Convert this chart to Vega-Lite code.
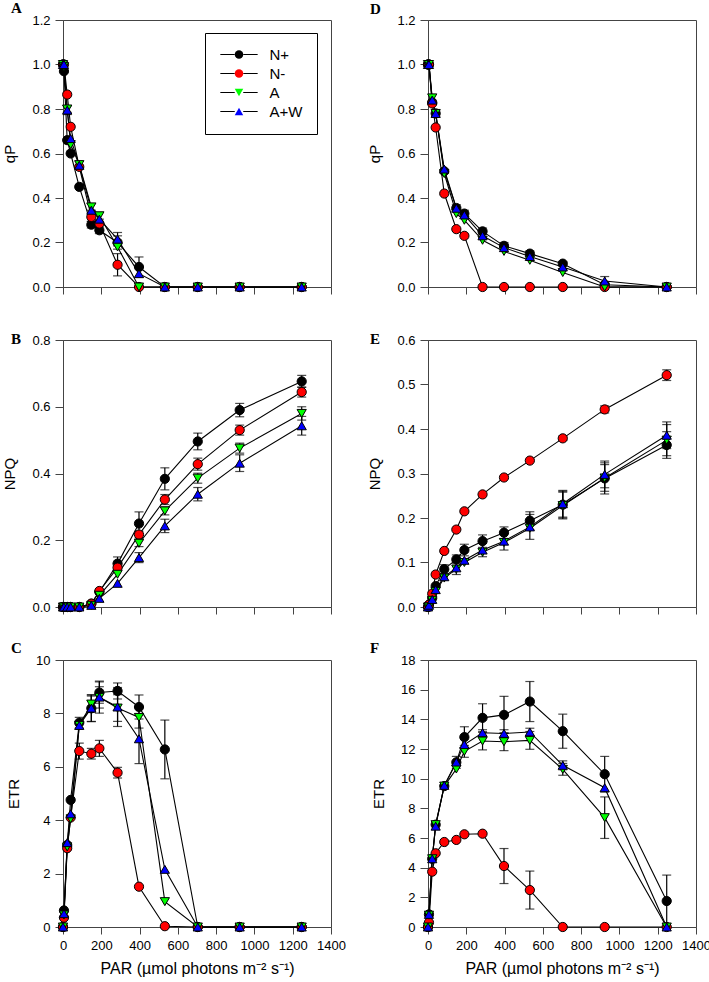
{
"$schema": "https://vega.github.io/schema/vega-lite/v6.json",
"background": "white",
"padding": {"left": 2, "top": 0, "right": 0, "bottom": 0},
"config": {
  "font": "Liberation Sans",
  "view": {"stroke": "#444", "strokeWidth": 1},
  "axis": {"grid": false, "domainColor": "#444", "tickColor": "#444", "tickSize": 8, "labelFontSize": 13, "labelColor": "#000", "labelFont": "Liberation Sans", "titleFont": "Liberation Sans", "titleFontSize": 15, "titleFontWeight": "normal", "titleColor": "#000", "labelPadding": 5, "titlePadding": 14, "labelOverlap": false, "labelFlush": false},
  "title": {"font": "Liberation Serif", "fontSize": 15, "fontWeight": "bold", "anchor": "start", "frame": "group", "color": "#000", "offset": 0}
},
"datasets": {
"A": [
{"t":"N+","x":0,"y":1.0},{"t":"N+","x":5,"y":0.97},{"t":"N+","x":22,"y":0.66},{"t":"N+","x":40,"y":0.6},{"t":"N+","x":85,"y":0.45},{"t":"N+","x":148,"y":0.28,"e":0.015},{"t":"N+","x":190,"y":0.255,"e":0.015},{"t":"N+","x":285,"y":0.2,"e":0.03},{"t":"N+","x":397,"y":0.09,"e":0.045},{"t":"N+","x":532,"y":0},{"t":"N+","x":704,"y":0},{"t":"N+","x":923,"y":0},{"t":"N+","x":1247,"y":0},
{"t":"N-","x":0,"y":1.0},{"t":"N-","x":5,"y":1.0},{"t":"N-","x":22,"y":0.865},{"t":"N-","x":40,"y":0.72},{"t":"N-","x":85,"y":0.54},{"t":"N-","x":148,"y":0.315,"e":0.02},{"t":"N-","x":190,"y":0.285},{"t":"N-","x":285,"y":0.1,"e":0.05},{"t":"N-","x":397,"y":0},{"t":"N-","x":532,"y":0},{"t":"N-","x":704,"y":0},{"t":"N-","x":923,"y":0},{"t":"N-","x":1247,"y":0},
{"t":"A","x":0,"y":1.0},{"t":"A","x":5,"y":0.99},{"t":"A","x":22,"y":0.8,"e":0.015},{"t":"A","x":40,"y":0.64},{"t":"A","x":85,"y":0.55,"e":0.015},{"t":"A","x":148,"y":0.36,"e":0.015},{"t":"A","x":190,"y":0.32,"e":0.015},{"t":"A","x":285,"y":0.18},{"t":"A","x":397,"y":0},{"t":"A","x":532,"y":0},{"t":"A","x":704,"y":0},{"t":"A","x":923,"y":0},{"t":"A","x":1247,"y":0},
{"t":"A+W","x":0,"y":1.0},{"t":"A+W","x":5,"y":1.0},{"t":"A+W","x":22,"y":0.795,"e":0.02},{"t":"A+W","x":40,"y":0.667},{"t":"A+W","x":85,"y":0.547},{"t":"A+W","x":148,"y":0.345},{"t":"A+W","x":190,"y":0.305},{"t":"A+W","x":285,"y":0.215,"e":0.03},{"t":"A+W","x":397,"y":0.06},{"t":"A+W","x":532,"y":0},{"t":"A+W","x":704,"y":0},{"t":"A+W","x":923,"y":0},{"t":"A+W","x":1247,"y":0}
],
"D": [
{"t":"N+","x":0,"y":1.0},{"t":"N+","x":5,"y":1.0},{"t":"N+","x":22,"y":0.83},{"t":"N+","x":40,"y":0.78},{"t":"N+","x":85,"y":0.52},{"t":"N+","x":148,"y":0.355,"e":0.015},{"t":"N+","x":190,"y":0.33,"e":0.015},{"t":"N+","x":285,"y":0.25,"e":0.015},{"t":"N+","x":397,"y":0.185,"e":0.015},{"t":"N+","x":532,"y":0.15,"e":0.012},{"t":"N+","x":704,"y":0.105,"e":0.01},{"t":"N+","x":923,"y":0.01},{"t":"N+","x":1247,"y":0},
{"t":"N-","x":0,"y":1.0},{"t":"N-","x":5,"y":1.0},{"t":"N-","x":22,"y":0.825},{"t":"N-","x":40,"y":0.717},{"t":"N-","x":85,"y":0.42},{"t":"N-","x":148,"y":0.26},{"t":"N-","x":190,"y":0.23},{"t":"N-","x":285,"y":0},{"t":"N-","x":397,"y":0},{"t":"N-","x":532,"y":0},{"t":"N-","x":704,"y":0},{"t":"N-","x":923,"y":0},{"t":"N-","x":1247,"y":0},
{"t":"A","x":0,"y":1.0},{"t":"A","x":5,"y":1.0},{"t":"A","x":22,"y":0.85},{"t":"A","x":40,"y":0.78},{"t":"A","x":85,"y":0.51},{"t":"A","x":148,"y":0.33},{"t":"A","x":190,"y":0.3},{"t":"A","x":285,"y":0.21},{"t":"A","x":397,"y":0.16},{"t":"A","x":532,"y":0.12},{"t":"A","x":704,"y":0.065},{"t":"A","x":923,"y":0},{"t":"A","x":1247,"y":0},
{"t":"A+W","x":0,"y":1.0},{"t":"A+W","x":5,"y":1.0},{"t":"A+W","x":22,"y":0.84},{"t":"A+W","x":40,"y":0.78,"e":0.015},{"t":"A+W","x":85,"y":0.53},{"t":"A+W","x":148,"y":0.354},{"t":"A+W","x":190,"y":0.324},{"t":"A+W","x":285,"y":0.23},{"t":"A+W","x":397,"y":0.177},{"t":"A+W","x":532,"y":0.137},{"t":"A+W","x":704,"y":0.09},{"t":"A+W","x":923,"y":0.027,"e":0.02},{"t":"A+W","x":1247,"y":0}
],
"B": [
{"t":"N+","x":0,"y":0},{"t":"N+","x":5,"y":0},{"t":"N+","x":22,"y":0},{"t":"N+","x":40,"y":0},{"t":"N+","x":85,"y":0},{"t":"N+","x":148,"y":0.01},{"t":"N+","x":190,"y":0.045},{"t":"N+","x":285,"y":0.13,"e":0.02},{"t":"N+","x":397,"y":0.25,"e":0.035},{"t":"N+","x":532,"y":0.384,"e":0.033},{"t":"N+","x":704,"y":0.496,"e":0.025},{"t":"N+","x":923,"y":0.59,"e":0.02},{"t":"N+","x":1247,"y":0.676,"e":0.018},
{"t":"N-","x":0,"y":0},{"t":"N-","x":5,"y":0},{"t":"N-","x":22,"y":0},{"t":"N-","x":40,"y":0},{"t":"N-","x":85,"y":0},{"t":"N-","x":148,"y":0.01},{"t":"N-","x":190,"y":0.048},{"t":"N-","x":285,"y":0.118},{"t":"N-","x":397,"y":0.217,"e":0.01},{"t":"N-","x":532,"y":0.322,"e":0.015},{"t":"N-","x":704,"y":0.428,"e":0.018},{"t":"N-","x":923,"y":0.53,"e":0.015},{"t":"N-","x":1247,"y":0.644,"e":0.015},
{"t":"A","x":0,"y":0},{"t":"A","x":5,"y":0},{"t":"A","x":22,"y":0},{"t":"A","x":40,"y":0},{"t":"A","x":85,"y":0},{"t":"A","x":148,"y":0.005},{"t":"A","x":190,"y":0.035},{"t":"A","x":285,"y":0.098},{"t":"A","x":397,"y":0.191,"e":0.01},{"t":"A","x":532,"y":0.288,"e":0.012},{"t":"A","x":704,"y":0.386,"e":0.015},{"t":"A","x":923,"y":0.476,"e":0.015},{"t":"A","x":1247,"y":0.58,"e":0.02},
{"t":"A+W","x":0,"y":0},{"t":"A+W","x":5,"y":0},{"t":"A+W","x":22,"y":0},{"t":"A+W","x":40,"y":0},{"t":"A+W","x":85,"y":0},{"t":"A+W","x":148,"y":0.005},{"t":"A+W","x":190,"y":0.026},{"t":"A+W","x":285,"y":0.071},{"t":"A+W","x":397,"y":0.148,"e":0.015},{"t":"A+W","x":532,"y":0.243,"e":0.02},{"t":"A+W","x":704,"y":0.338,"e":0.02},{"t":"A+W","x":923,"y":0.431,"e":0.025},{"t":"A+W","x":1247,"y":0.543,"e":0.028}
],
"E": [
{"t":"N+","x":0,"y":0},{"t":"N+","x":5,"y":0.005},{"t":"N+","x":22,"y":0.02},{"t":"N+","x":40,"y":0.047},{"t":"N+","x":85,"y":0.085,"e":0.01},{"t":"N+","x":148,"y":0.107,"e":0.01},{"t":"N+","x":190,"y":0.128,"e":0.013},{"t":"N+","x":285,"y":0.148,"e":0.014},{"t":"N+","x":397,"y":0.167,"e":0.013},{"t":"N+","x":532,"y":0.194,"e":0.02},{"t":"N+","x":704,"y":0.23,"e":0.03},{"t":"N+","x":923,"y":0.289,"e":0.035},{"t":"N+","x":1247,"y":0.364,"e":0.03},
{"t":"N-","x":0,"y":0},{"t":"N-","x":5,"y":0.005},{"t":"N-","x":22,"y":0.03},{"t":"N-","x":40,"y":0.073},{"t":"N-","x":85,"y":0.126},{"t":"N-","x":148,"y":0.174},{"t":"N-","x":190,"y":0.215},{"t":"N-","x":285,"y":0.253},{"t":"N-","x":397,"y":0.291},{"t":"N-","x":532,"y":0.329},{"t":"N-","x":704,"y":0.379,"e":0.005},{"t":"N-","x":923,"y":0.444,"e":0.008},{"t":"N-","x":1247,"y":0.521,"e":0.012},
{"t":"A","x":0,"y":0},{"t":"A","x":5,"y":0},{"t":"A","x":22,"y":0.015},{"t":"A","x":40,"y":0.035},{"t":"A","x":85,"y":0.065},{"t":"A","x":148,"y":0.085},{"t":"A","x":190,"y":0.1},{"t":"A","x":285,"y":0.123},{"t":"A","x":397,"y":0.145},{"t":"A","x":532,"y":0.177},{"t":"A","x":704,"y":0.228,"e":0.03},{"t":"A","x":923,"y":0.29,"e":0.03},{"t":"A","x":1247,"y":0.375,"e":0.035},
{"t":"A+W","x":0,"y":0},{"t":"A+W","x":5,"y":0.004},{"t":"A+W","x":22,"y":0.017},{"t":"A+W","x":40,"y":0.039},{"t":"A+W","x":85,"y":0.068},{"t":"A+W","x":148,"y":0.088,"e":0.015},{"t":"A+W","x":190,"y":0.105},{"t":"A+W","x":285,"y":0.128,"e":0.015},{"t":"A+W","x":397,"y":0.148,"e":0.02},{"t":"A+W","x":532,"y":0.18,"e":0.028},{"t":"A+W","x":704,"y":0.232,"e":0.03},{"t":"A+W","x":923,"y":0.298,"e":0.03},{"t":"A+W","x":1247,"y":0.386,"e":0.03}
],
"C": [
{"t":"N+","x":0,"y":0},{"t":"N+","x":5,"y":0.62},{"t":"N+","x":22,"y":3.07},{"t":"N+","x":40,"y":4.76},{"t":"N+","x":85,"y":7.65,"e":0.2},{"t":"N+","x":148,"y":8.19,"e":0.5},{"t":"N+","x":190,"y":8.78,"e":0.4},{"t":"N+","x":285,"y":8.84,"e":0.3},{"t":"N+","x":397,"y":8.24,"e":0.45},{"t":"N+","x":532,"y":6.65,"e":1.1},{"t":"N+","x":704,"y":0},{"t":"N+","x":923,"y":0},{"t":"N+","x":1247,"y":0},
{"t":"N-","x":0,"y":0},{"t":"N-","x":5,"y":0.35},{"t":"N-","x":22,"y":2.95},{"t":"N-","x":40,"y":4.1},{"t":"N-","x":85,"y":6.59,"e":0.3},{"t":"N-","x":148,"y":6.49,"e":0.2},{"t":"N-","x":190,"y":6.69,"e":0.3},{"t":"N-","x":285,"y":5.78,"e":0.2},{"t":"N-","x":397,"y":1.51},{"t":"N-","x":532,"y":0.03},{"t":"N-","x":704,"y":0},{"t":"N-","x":923,"y":0},{"t":"N-","x":1247,"y":0},
{"t":"A","x":0,"y":0},{"t":"A","x":5,"y":0.45},{"t":"A","x":22,"y":3.0},{"t":"A","x":40,"y":4.05},{"t":"A","x":85,"y":7.55},{"t":"A","x":148,"y":8.35,"e":0.3},{"t":"A","x":190,"y":8.6,"e":0.4},{"t":"A","x":285,"y":8.2,"e":0.5},{"t":"A","x":397,"y":7.85,"e":0.4},{"t":"A","x":532,"y":0.95},{"t":"A","x":704,"y":0},{"t":"A","x":923,"y":0},{"t":"A","x":1247,"y":0},
{"t":"A+W","x":0,"y":0},{"t":"A+W","x":5,"y":0.5},{"t":"A+W","x":22,"y":3.16},{"t":"A+W","x":40,"y":4.24},{"t":"A+W","x":85,"y":7.55},{"t":"A+W","x":148,"y":8.2,"e":0.5},{"t":"A+W","x":190,"y":8.61,"e":0.6},{"t":"A+W","x":285,"y":8.24,"e":0.73},{"t":"A+W","x":397,"y":7.05,"e":0.93},{"t":"A+W","x":532,"y":2.16},{"t":"A+W","x":704,"y":0},{"t":"A+W","x":923,"y":0},{"t":"A+W","x":1247,"y":0}
],
"F": [
{"t":"N+","x":0,"y":0},{"t":"N+","x":5,"y":0.85},{"t":"N+","x":22,"y":4.6},{"t":"N+","x":40,"y":6.9},{"t":"N+","x":85,"y":9.5},{"t":"N+","x":148,"y":11.1,"e":0.4},{"t":"N+","x":190,"y":12.8,"e":0.7},{"t":"N+","x":285,"y":14.1,"e":0.95},{"t":"N+","x":397,"y":14.3,"e":1.25},{"t":"N+","x":532,"y":15.2,"e":1.35},{"t":"N+","x":704,"y":13.2,"e":1.15},{"t":"N+","x":923,"y":10.3,"e":1.2},{"t":"N+","x":1247,"y":1.75,"e":1.75},
{"t":"N-","x":0,"y":0},{"t":"N-","x":5,"y":0.3},{"t":"N-","x":22,"y":3.73},{"t":"N-","x":40,"y":4.97},{"t":"N-","x":85,"y":5.73},{"t":"N-","x":148,"y":5.87},{"t":"N-","x":190,"y":6.25},{"t":"N-","x":285,"y":6.29},{"t":"N-","x":397,"y":4.11,"e":1.18},{"t":"N-","x":532,"y":2.49,"e":1.28},{"t":"N-","x":704,"y":0},{"t":"N-","x":923,"y":0},{"t":"N-","x":1247,"y":0},
{"t":"A","x":0,"y":0},{"t":"A","x":5,"y":0.8},{"t":"A","x":22,"y":4.6},{"t":"A","x":40,"y":6.9},{"t":"A","x":85,"y":9.5},{"t":"A","x":148,"y":10.65},{"t":"A","x":190,"y":11.84,"e":0.4},{"t":"A","x":285,"y":12.54,"e":0.6},{"t":"A","x":397,"y":12.49,"e":0.6},{"t":"A","x":532,"y":12.58,"e":0.6},{"t":"A","x":704,"y":10.63,"e":0.4},{"t":"A","x":923,"y":7.37,"e":1.4},{"t":"A","x":1247,"y":0},
{"t":"A+W","x":0,"y":0},{"t":"A+W","x":5,"y":0.85},{"t":"A+W","x":22,"y":4.6},{"t":"A+W","x":40,"y":6.8},{"t":"A+W","x":85,"y":9.55},{"t":"A+W","x":148,"y":11.12},{"t":"A+W","x":190,"y":12.3},{"t":"A+W","x":285,"y":13.1,"e":0.2},{"t":"A+W","x":397,"y":13.05,"e":0.25},{"t":"A+W","x":532,"y":13.15,"e":0.25},{"t":"A+W","x":704,"y":10.9,"e":0.3},{"t":"A+W","x":923,"y":9.39},{"t":"A+W","x":1247,"y":0}
]
},
"resolve": {"legend": {"color": "independent", "shape": "independent", "stroke": "independent"}},
"columns": 2,
"bounds": "flush",
"spacing": {"row": 53, "column": 97},
"concat": [
{"width": 268, "height": 267, "title": {"text": "A", "dx": -52, "dy": 6}, "data": {"name": "A"},
 "encoding": {
  "x": {"field": "x", "type": "quantitative", "scale": {"domain": [0, 1400], "nice": false}, "axis": {"title": null, "labels": false, "values": [0,200,400,600,800,1000,1200,1400], "tickSize": 7}},
  "y": {"field": "y", "type": "quantitative", "scale": {"domain": [0, 1.2], "nice": false}, "axis": {"title": "qP", "values": [0,0.2,0.4,0.6,0.8,1.0,1.2], "format": ".1f"}}
 },
 "layer": [
  {"mark": {"type": "line", "strokeWidth": 1.1}, "encoding": {
    "stroke": {"field": "t", "type": "nominal", "sort": ["N+","N-","A","A+W"], "scale": {"range": ["black","black","black","black"]},
      "legend": {"orient": "none", "legendX": 142, "legendY": 13, "title": null, "strokeColor": "black", "padding": 14, "labelFontSize": 15, "labelFont": "Liberation Sans", "labelOpacity": 0, "symbolType": "M-4.4,0H-1M1,0H4.4", "symbolSize": 72, "symbolStrokeColor": "black", "symbolStrokeWidth": 1, "symbolOpacity": 1, "rowPadding": 3, "symbolOffset": 12.5, "labelOffset": 23}}}},
  {"transform": [{"filter": "datum.e > 0"}], "mark": {"type": "errorbar", "ticks": {"size": 9}, "color": "black", "thickness": 1.2}, "encoding": {"yError": {"field": "e"}}},
  {"mark": {"type": "point", "filled": true, "size": 85, "opacity": 1, "stroke": "black", "strokeWidth": 1},
   "encoding": {
    "color": {"field": "t", "type": "nominal", "scale": {"domain": ["N+","N-","A","A+W"], "range": ["#000000","#ff0000","#00ff00","#0000ff"]},
      "legend": {"orient": "none", "legendX": 142, "legendY": 13, "title": null, "padding": 14, "labelFontSize": 15, "labelFont": "Liberation Sans", "labelColor": "#000", "symbolSize": 72, "symbolStrokeColor": "black", "symbolStrokeWidth": 1, "symbolOpacity": 1, "rowPadding": 3, "symbolOffset": 12.5, "labelOffset": 23}},
    "shape": {"field": "t", "type": "nominal", "scale": {"domain": ["N+","N-","A","A+W"], "range": ["circle","circle","triangle-down","triangle-up"]},
      "legend": {"orient": "none", "legendX": 142, "legendY": 13, "title": null, "padding": 14, "labelFontSize": 15, "labelFont": "Liberation Sans", "labelColor": "#000", "symbolSize": 72, "symbolStrokeColor": "black", "symbolStrokeWidth": 1, "symbolOpacity": 1, "rowPadding": 3, "symbolOffset": 12.5, "labelOffset": 23}}
   }}
 ]},
{"width": 268, "height": 267, "title": {"text": "D", "dx": -58, "dy": 7}, "data": {"name": "D"},
 "encoding": {
  "x": {"field": "x", "type": "quantitative", "scale": {"domain": [0, 1400], "nice": false}, "axis": {"title": null, "labels": false, "values": [0,200,400,600,800,1000,1200,1400], "tickSize": 7}},
  "y": {"field": "y", "type": "quantitative", "scale": {"domain": [0, 1.2], "nice": false}, "axis": {"title": "qP", "values": [0,0.2,0.4,0.6,0.8,1.0,1.2], "format": ".1f"}}
 },
 "layer": [
  {"mark": {"type": "line", "color": "black", "strokeWidth": 1.1}, "encoding": {"detail": {"field": "t"}}},
  {"transform": [{"filter": "datum.e > 0"}], "mark": {"type": "errorbar", "ticks": {"size": 9}, "color": "black", "thickness": 1.2}, "encoding": {"yError": {"field": "e"}}},
  {"mark": {"type": "point", "filled": true, "size": 85, "opacity": 1, "stroke": "black", "strokeWidth": 1},
   "encoding": {
    "color": {"field": "t", "type": "nominal", "scale": {"domain": ["N+","N-","A","A+W"], "range": ["#000000","#ff0000","#00ff00","#0000ff"]}, "legend": null},
    "shape": {"field": "t", "type": "nominal", "scale": {"domain": ["N+","N-","A","A+W"], "range": ["circle","circle","triangle-down","triangle-up"]}, "legend": null}
   }}
 ]},
{"width": 268, "height": 267, "title": {"text": "B", "dx": -52, "dy": 17}, "data": {"name": "B"},
 "encoding": {
  "x": {"field": "x", "type": "quantitative", "scale": {"domain": [0, 1400], "nice": false}, "axis": {"title": null, "labels": false, "values": [0,200,400,600,800,1000,1200,1400], "tickSize": 7}},
  "y": {"field": "y", "type": "quantitative", "scale": {"domain": [0, 0.8], "nice": false}, "axis": {"title": "NPQ", "values": [0,0.2,0.4,0.6,0.8], "format": ".1f"}}
 },
 "layer": [
  {"mark": {"type": "line", "color": "black", "strokeWidth": 1.1}, "encoding": {"detail": {"field": "t"}}},
  {"transform": [{"filter": "datum.e > 0"}], "mark": {"type": "errorbar", "ticks": {"size": 9}, "color": "black", "thickness": 1.2}, "encoding": {"yError": {"field": "e"}}},
  {"mark": {"type": "point", "filled": true, "size": 85, "opacity": 1, "stroke": "black", "strokeWidth": 1},
   "encoding": {
    "color": {"field": "t", "type": "nominal", "scale": {"domain": ["N+","N-","A","A+W"], "range": ["#000000","#ff0000","#00ff00","#0000ff"]}, "legend": null},
    "shape": {"field": "t", "type": "nominal", "scale": {"domain": ["N+","N-","A","A+W"], "range": ["circle","circle","triangle-down","triangle-up"]}, "legend": null}
   }}
 ]},
{"width": 268, "height": 267, "title": {"text": "E", "dx": -58, "dy": 17}, "data": {"name": "E"},
 "encoding": {
  "x": {"field": "x", "type": "quantitative", "scale": {"domain": [0, 1400], "nice": false}, "axis": {"title": null, "labels": false, "values": [0,200,400,600,800,1000,1200,1400], "tickSize": 7}},
  "y": {"field": "y", "type": "quantitative", "scale": {"domain": [0, 0.6], "nice": false}, "axis": {"title": "NPQ", "values": [0,0.1,0.2,0.3,0.4,0.5,0.6], "format": ".1f"}}
 },
 "layer": [
  {"mark": {"type": "line", "color": "black", "strokeWidth": 1.1}, "encoding": {"detail": {"field": "t"}}},
  {"transform": [{"filter": "datum.e > 0"}], "mark": {"type": "errorbar", "ticks": {"size": 9}, "color": "black", "thickness": 1.2}, "encoding": {"yError": {"field": "e"}}},
  {"mark": {"type": "point", "filled": true, "size": 85, "opacity": 1, "stroke": "black", "strokeWidth": 1},
   "encoding": {
    "color": {"field": "t", "type": "nominal", "scale": {"domain": ["N+","N-","A","A+W"], "range": ["#000000","#ff0000","#00ff00","#0000ff"]}, "legend": null},
    "shape": {"field": "t", "type": "nominal", "scale": {"domain": ["N+","N-","A","A+W"], "range": ["circle","circle","triangle-down","triangle-up"]}, "legend": null}
   }}
 ]},
{"width": 268, "height": 267, "title": {"text": "C", "dx": -52, "dy": 6}, "data": {"name": "C"},
 "encoding": {
  "x": {"field": "x", "type": "quantitative", "scale": {"domain": [0, 1400], "nice": false}, "axis": {"title": "PAR (µmol photons m⁻² s⁻¹)", "titleFontSize": 16, "titlePadding": 8, "format": "d", "values": [0,200,400,600,800,1000,1200,1400], "tickSize": 7}},
  "y": {"field": "y", "type": "quantitative", "scale": {"domain": [0, 10], "nice": false}, "axis": {"title": "ETR", "values": [0,2,4,6,8,10], "format": "d"}}
 },
 "layer": [
  {"mark": {"type": "line", "color": "black", "strokeWidth": 1.1}, "encoding": {"detail": {"field": "t"}}},
  {"transform": [{"filter": "datum.e > 0"}], "mark": {"type": "errorbar", "ticks": {"size": 9}, "color": "black", "thickness": 1.2}, "encoding": {"yError": {"field": "e"}}},
  {"mark": {"type": "point", "filled": true, "size": 85, "opacity": 1, "stroke": "black", "strokeWidth": 1},
   "encoding": {
    "color": {"field": "t", "type": "nominal", "scale": {"domain": ["N+","N-","A","A+W"], "range": ["#000000","#ff0000","#00ff00","#0000ff"]}, "legend": null},
    "shape": {"field": "t", "type": "nominal", "scale": {"domain": ["N+","N-","A","A+W"], "range": ["circle","circle","triangle-down","triangle-up"]}, "legend": null}
   }}
 ]},
{"width": 268, "height": 267, "title": {"text": "F", "dx": -58, "dy": 6}, "data": {"name": "F"},
 "encoding": {
  "x": {"field": "x", "type": "quantitative", "scale": {"domain": [0, 1400], "nice": false}, "axis": {"title": "PAR (µmol photons m⁻² s⁻¹)", "titleFontSize": 16, "titlePadding": 8, "format": "d", "values": [0,200,400,600,800,1000,1200,1400], "tickSize": 7}},
  "y": {"field": "y", "type": "quantitative", "scale": {"domain": [0, 18], "nice": false}, "axis": {"title": "ETR", "values": [0,2,4,6,8,10,12,14,16,18], "format": "d"}}
 },
 "layer": [
  {"mark": {"type": "line", "color": "black", "strokeWidth": 1.1}, "encoding": {"detail": {"field": "t"}}},
  {"transform": [{"filter": "datum.e > 0"}], "mark": {"type": "errorbar", "ticks": {"size": 9}, "color": "black", "thickness": 1.2}, "encoding": {"yError": {"field": "e"}}},
  {"mark": {"type": "point", "filled": true, "size": 85, "opacity": 1, "stroke": "black", "strokeWidth": 1},
   "encoding": {
    "color": {"field": "t", "type": "nominal", "scale": {"domain": ["N+","N-","A","A+W"], "range": ["#000000","#ff0000","#00ff00","#0000ff"]}, "legend": null},
    "shape": {"field": "t", "type": "nominal", "scale": {"domain": ["N+","N-","A","A+W"], "range": ["circle","circle","triangle-down","triangle-up"]}, "legend": null}
   }}
 ]}
]
}
